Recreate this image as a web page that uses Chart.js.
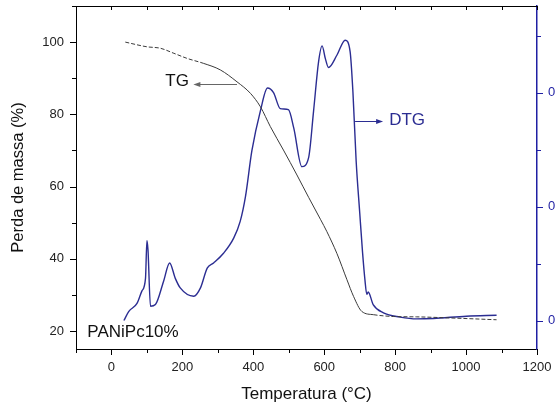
<!DOCTYPE html>
<html lang="pt">
<head>
<meta charset="UTF-8">
<title>TG / DTG - PANiPc10%</title>
<script src="https://cdn.jsdelivr.net/npm/chart.js"></script>
<style>
  body { margin: 0; background: #ffffff; }
  #wrap { width: 557px; height: 412px; }
</style>
</head>
<body>
<div id="wrap"><canvas id="tgChart" width="557" height="412"></canvas></div>
<script>
// TG: perda de massa (%) x temperatura (°C)
const tgTemp = [39, 100, 138, 176, 213, 260, 307, 354, 392, 420, 448, 485, 523, 556,
                590, 607, 636, 664, 683, 706, 739, 795, 861, 955, 1086];
const tgMass = [100, 98.7, 98.3, 96.9, 95.5, 94.1, 92.3, 89.0, 85.8, 82.1, 76.6, 70.1, 63.2, 57.0,
                50.8, 47.6, 41.4, 34.2, 29.5, 25.4, 24.5, 24.0, 23.9, 23.6, 23.1];

// DTG (eixo da direita, unidades arbitrárias)
const dtgTemp = [35, 49, 72, 86, 96, 100, 103, 110, 124, 147, 164, 180, 194, 232, 251, 270, 288,
                 316, 345, 363, 378, 396, 420, 440, 457, 476, 499, 514, 537, 556, 570, 584, 594,
                 603, 612, 636, 659, 673, 681, 690, 700, 708, 715, 720, 724, 738, 767, 814, 861,
                 908, 1001, 1086];
const dtgValue = [0.0, 0.08, 0.15, 0.26, 0.37, 0.70, 0.62, 0.125, 0.14, 0.345, 0.505, 0.37, 0.286,
                  0.213, 0.286, 0.46, 0.505, 0.59, 0.725, 0.87, 1.09, 1.49, 1.84, 2.04, 2.0, 1.86,
                  1.85, 1.69, 1.35, 1.43, 1.84, 2.27, 2.41, 2.30, 2.22, 2.33, 2.46, 2.36, 2.0, 1.4,
                  0.95, 0.6, 0.35, 0.23, 0.25, 0.14, 0.067, 0.03, 0.014, 0.018, 0.038, 0.046];

const blue = '#2b2d92';
const axisBlue = '#1f1fa3';
const font = 'Arial, "Liberation Sans", sans-serif';

// textos e setas (coordenadas nos eixos x / y)
const labels = [
  { text: 'TG', x: 152, y: 89.2, color: '#111' },
  { text: 'DTG', x: 783, y: 78.4, color: blue },
  { text: 'PANiPc10%', x: -68, y: 19.5, color: '#111' }
];
const arrows = [
  { from: 354, to: 231, y: 88.4, color: '#666' },
  { from: 687, to: 766, y: 78.1, color: blue }
];

const axisMarks = {
  id: 'axisMarks',
  afterDraw(chart) {
    const { ctx, chartArea: a, scales } = chart;
    const px = v => Math.round(v) + 0.5;
    ctx.save();
    ctx.lineWidth = 1;
    ctx.strokeStyle = '#000';
    ctx.beginPath();
    ctx.moveTo(a.left, px(a.top));
    ctx.lineTo(a.right, px(a.top));
    scales.x.ticks.forEach(t => {
      const xp = px(scales.x.getPixelForValue(t.value));
      const len = t.value % 200 === 0 ? 6 : 4;
      ctx.moveTo(xp, a.bottom);
      ctx.lineTo(xp, a.bottom + len);
      ctx.moveTo(xp, a.top);
      ctx.lineTo(xp, a.top + 4);
    });
    scales.y.ticks.forEach(t => {
      const yp = px(scales.y.getPixelForValue(t.value));
      const len = t.value % 20 === 0 ? 6 : 4;
      ctx.moveTo(a.left - len, yp);
      ctx.lineTo(a.left, yp);
    });
    ctx.stroke();

    ctx.strokeStyle = axisBlue;
    ctx.beginPath();
    scales.y2.ticks.forEach(t => {
      const yp = px(scales.y2.getPixelForValue(t.value));
      const len = Number.isInteger(t.value) ? 6 : 4;
      ctx.moveTo(a.right, yp);
      ctx.lineTo(a.right + len, yp);
    });
    ctx.stroke();

    // setas
    arrows.forEach(ar => {
      const x1 = scales.x.getPixelForValue(ar.from);
      const x2 = scales.x.getPixelForValue(ar.to);
      const yp = px(scales.y.getPixelForValue(ar.y));
      const dir = Math.sign(x2 - x1);
      ctx.strokeStyle = ar.color;
      ctx.fillStyle = ar.color;
      ctx.beginPath();
      ctx.moveTo(x1, yp);
      ctx.lineTo(x2 - dir * 4, yp);
      ctx.stroke();
      ctx.beginPath();
      ctx.moveTo(x2, yp);
      ctx.lineTo(x2 - dir * 7, yp - 2.5);
      ctx.lineTo(x2 - dir * 7, yp + 2.5);
      ctx.closePath();
      ctx.fill();
    });

    // textos
    ctx.font = '17px ' + font;
    ctx.textAlign = 'left';
    ctx.textBaseline = 'middle';
    labels.forEach(l => {
      ctx.fillStyle = l.color;
      ctx.fillText(l.text, scales.x.getPixelForValue(l.x), scales.y.getPixelForValue(l.y));
    });
    ctx.restore();
  }
};

const tgDashed = t => t < 260 || t > 720;
const noPad = s => { s.paddingTop = 0; s.paddingBottom = 0; s.paddingLeft = 0; s.paddingRight = 0; };

new Chart(document.getElementById('tgChart'), {
  type: 'line',
  data: {
    datasets: [
      {
        label: 'TG',
        data: tgTemp.map((t, i) => ({ x: t, y: tgMass[i] })),
        yAxisID: 'y',
        borderColor: '#3a3a3a',
        borderWidth: 1,
        pointRadius: 0,
        cubicInterpolationMode: 'monotone',
        segment: {
          borderDash: c => tgDashed(c.p0.parsed.x) ? [4, 2] : undefined
        }
      },
      {
        label: 'DTG',
        data: dtgTemp.map((t, i) => ({ x: t, y: dtgValue[i] })),
        yAxisID: 'y2',
        borderColor: blue,
        borderWidth: 1.4,
        pointRadius: 0,
        cubicInterpolationMode: 'monotone'
      }
    ]
  },
  options: {
    responsive: false,
    animation: false,
    layout: { padding: { top: 6, left: 0, right: 0, bottom: 0 } },
    plugins: { legend: { display: false }, tooltip: { enabled: false } },
    scales: {
      x: {
        type: 'linear',
        min: -100,
        max: 1200,
        afterFit: s => { s.height = 63; noPad(s); },
        grid: { display: false, drawTicks: false },
        border: { display: true, color: '#000', width: 1 },
        ticks: {
          stepSize: 100,
          autoSkip: false,
          maxRotation: 0,
          padding: 11,
          color: '#222',
          font: { family: font, size: 13 },
          callback: v => v % 200 === 0 ? String(v) : ''
        },
        title: {
          display: true,
          text: 'Temperatura (°C)',
          color: '#111',
          font: { family: font, size: 17 },
          padding: { top: 0, bottom: 7 }
        }
      },
      y: {
        position: 'left',
        min: 15,
        max: 110,
        afterFit: s => { s.width = 76; noPad(s); },
        grid: { display: false, drawTicks: false },
        border: { display: true, color: '#000', width: 1 },
        ticks: {
          stepSize: 10,
          includeBounds: false,
          autoSkip: false,
          padding: 12,
          color: '#222',
          font: { family: font, size: 13 },
          callback: v => v % 20 === 0 ? String(v) : ''
        },
        title: {
          display: true,
          text: 'Perda de massa (%)',
          color: '#111',
          font: { family: font, size: 16.5 },
          padding: { top: 9, bottom: 0 }
        }
      },
      y2: {
        position: 'right',
        min: -0.25,
        max: 2.76,
        afterFit: s => { s.width = 20; noPad(s); },
        grid: { display: false, drawTicks: false },
        border: { display: true, color: axisBlue, width: 1.5 },
        ticks: {
          stepSize: 0.5,
          includeBounds: false,
          autoSkip: false,
          padding: 11,
          color: axisBlue,
          font: { family: font, size: 13 },
          callback: v => Number.isInteger(v) ? '0' : ''
        }
      }
    }
  },
  plugins: [axisMarks]
});
</script>
</body>
</html>
